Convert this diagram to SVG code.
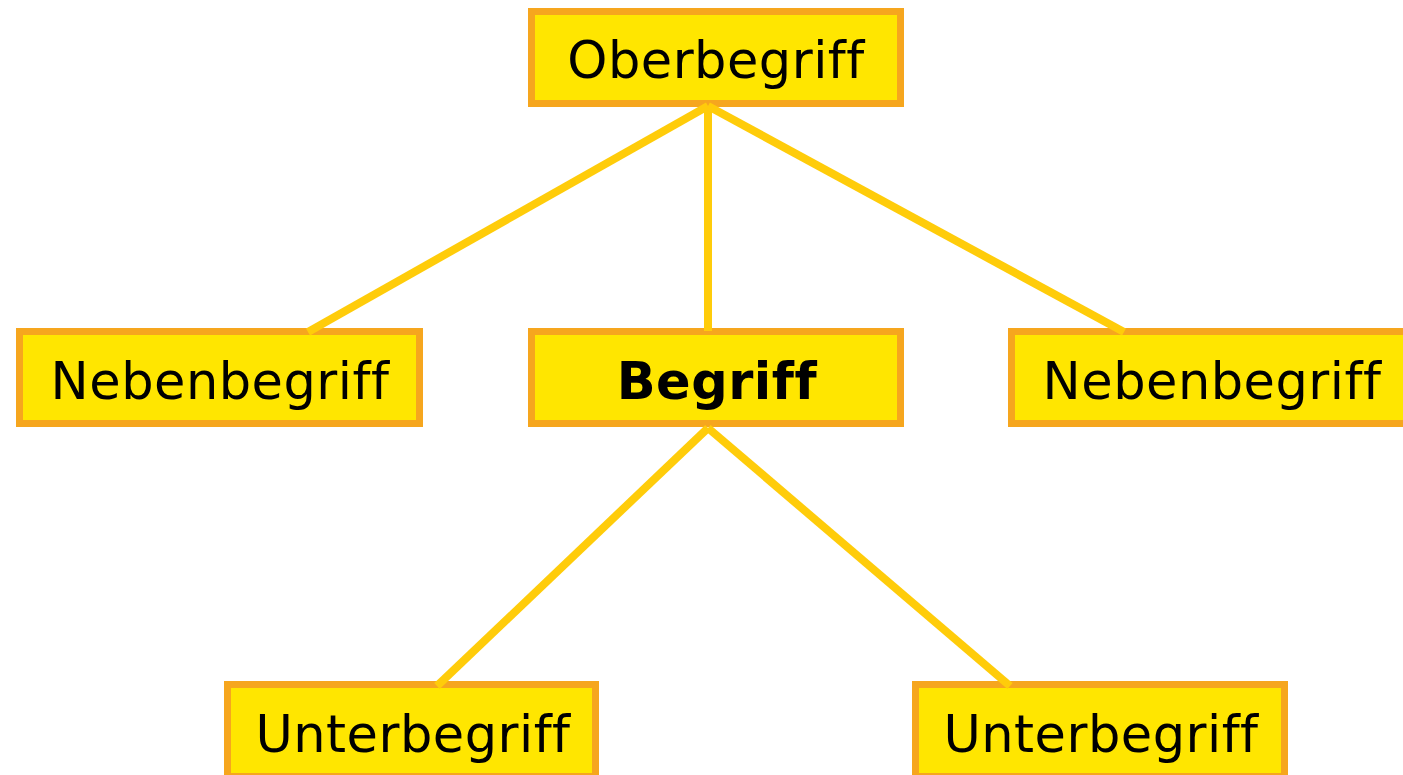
<svg xmlns="http://www.w3.org/2000/svg" width="1403" height="775" viewBox="0 0 1403 775">
<style>
.box{fill:#FFE600;stroke:#F6A61E;stroke-width:7}
.lbl{font-family:"DejaVu Sans",sans-serif;font-size:51px;fill:#000;text-anchor:middle;font-variant-ligatures:none;font-feature-settings:"liga" 0;letter-spacing:0.5px}
.bold{font-weight:bold}
.con{stroke:#FFCC0A;stroke-width:8;fill:none}
</style>
<rect width="1403" height="775" fill="#fff"/>
<g id="oberbegriff"><rect class="box" x="531.5" y="11.5" width="369" height="92"/><text class="lbl" x="716" y="78">Oberbegriff</text></g>
<g id="nebenbegriff-links"><rect class="box" x="19.5" y="331.5" width="400" height="92"/><text class="lbl" x="220" y="399">Nebenbegriff</text></g>
<g id="begriff"><rect class="box" x="531.5" y="331.5" width="369" height="92"/><text class="lbl bold" x="717" y="399">Begriff</text></g>
<g id="nebenbegriff-rechts"><rect class="box" x="1011.5" y="331.5" width="400" height="92"/><text class="lbl" x="1212" y="399">Nebenbegriff</text></g>
<g id="unterbegriff-links"><rect class="box" x="227.5" y="684.5" width="368" height="92"/><text class="lbl" x="413" y="752">Unterbegriff</text></g>
<g id="unterbegriff-rechts"><rect class="box" x="915.5" y="684.5" width="369" height="92"/><text class="lbl" x="1101" y="752">Unterbegriff</text></g>
<g id="connectors">
<line class="con" x1="708" y1="106" x2="308" y2="332"/>
<line class="con" x1="708" y1="106" x2="708" y2="331"/>
<line class="con" x1="708" y1="106" x2="1124" y2="332"/>
<line class="con" x1="708" y1="428" x2="437" y2="686"/>
<line class="con" x1="708" y1="428" x2="1010" y2="686"/>
</g>
</svg>
